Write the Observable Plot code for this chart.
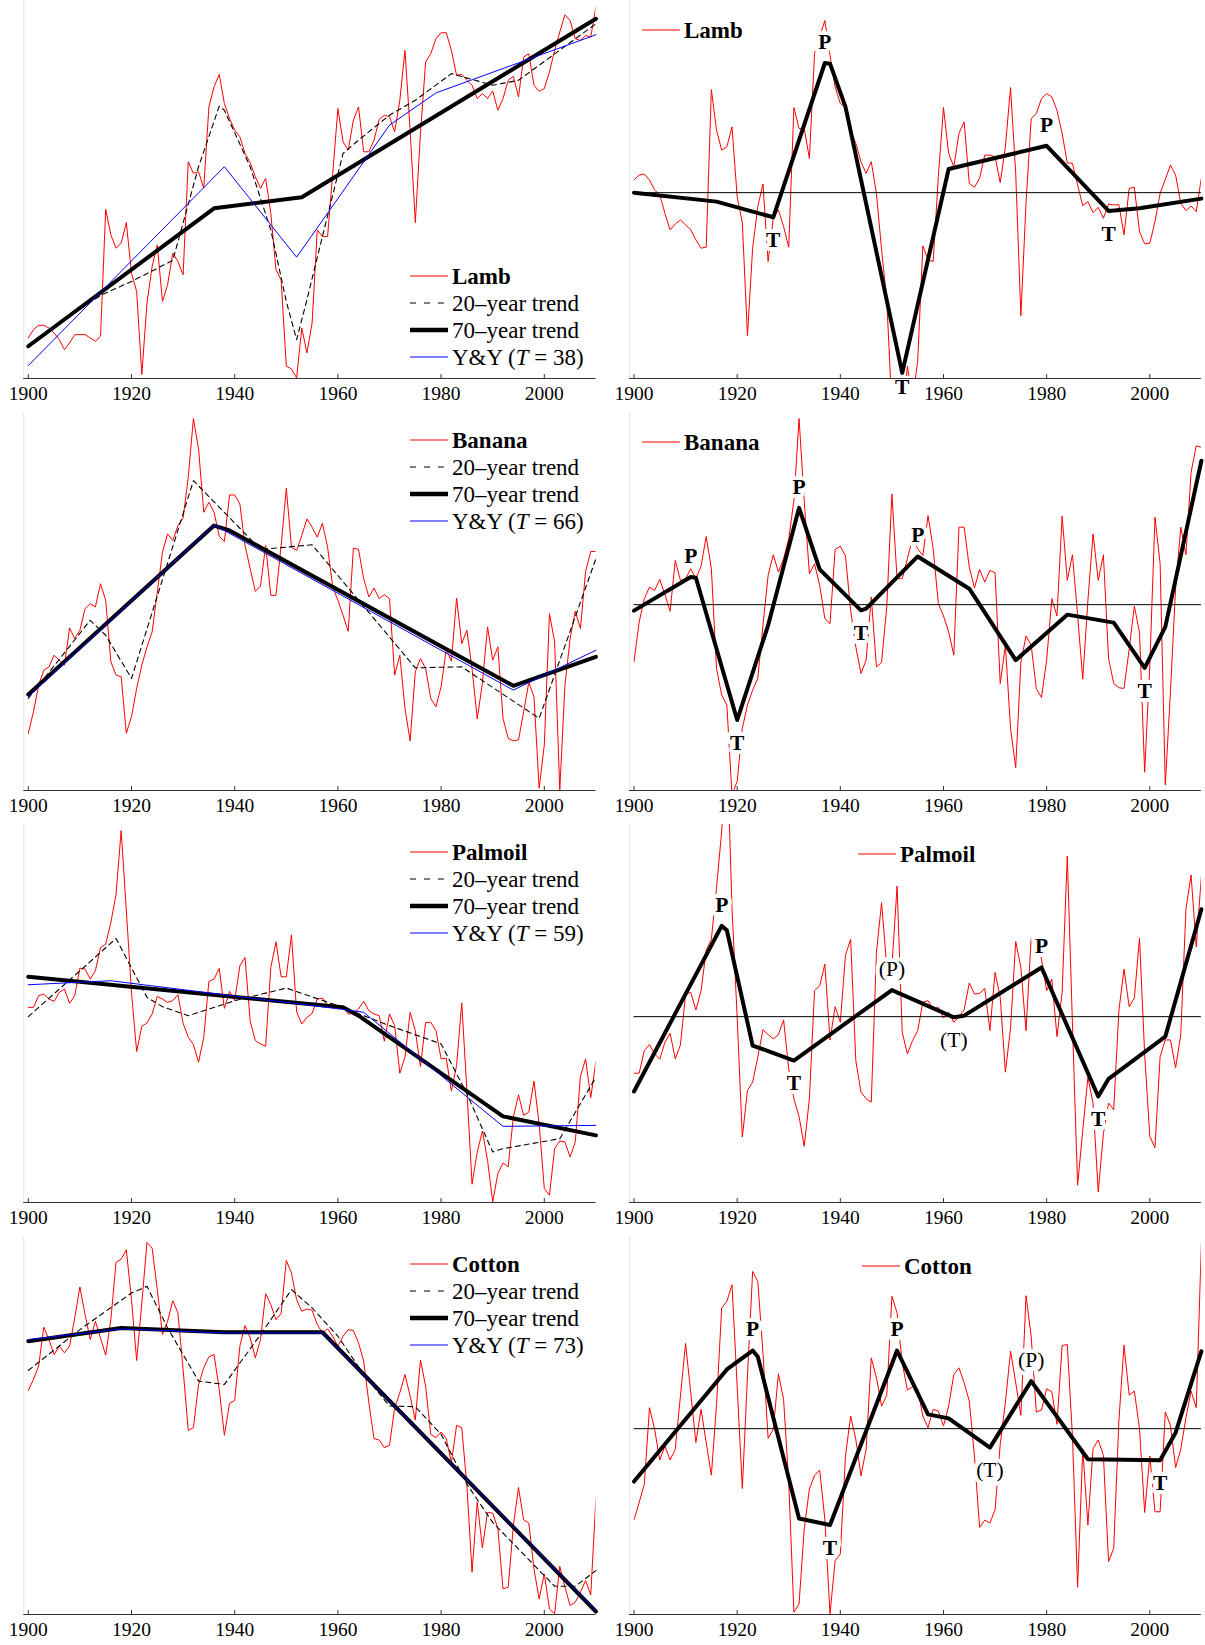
<!DOCTYPE html>
<html><head><meta charset="utf-8">
<script src="https://cdn.jsdelivr.net/npm/d3@7"></script>
<script src="https://cdn.jsdelivr.net/npm/@observablehq/plot@0.6"></script>
<style>
html,body{margin:0;padding:0;background:#fff;}
body{width:1205px;height:1645px;overflow:hidden;position:relative;font-family:"Liberation Serif","Times New Roman",serif;}
.panel{position:absolute;}
.panel text{font-family:"Liberation Serif","Times New Roman",serif !important;}
.panel g[aria-label="x-axis tick label"] text{font-size:19.5px !important;}
.leg{position:absolute;display:flex;align-items:center;height:26px;font-size:23px;line-height:1;white-space:nowrap;color:#000;}
.leg svg{margin-right:4px;}
</style></head><body>
<script>
const years = d3.range(1900, 2011);
const tickYears = [1900, 1920, 1940, 1960, 1980, 2000];

// ---- Lamb ----
const lambLevel = [122,147,160,160,152,137,117,87,107,132,
 132,132,122,112,127,509,432,392,407,469,
 317,262,12,227,337,402,232,282,377,352,
 312,652,617,622,572,817,877,915,827,782,
 747,727,677,649,607,572,602,497,327,297,
 37,29,2,152,77,167,447,427,427,617,
 812,712,687,777,817,682,682,717,779,792,
 787,742,837,987,747,469,737,952,977,1022,
 1040,1040,987,912,915,897,882,842,857,842,
 865,807,842,897,909,847,967,977,882,864,
 872,922,987,1042,1094,1077,1022,1017,1032,1027,
 1117];
const lambT20Years = [1900,1914,1920,1928,1933,1937,1938,1943,1947,1950,1952,1954,1957,1961,1964,1970,1975,1982,1990,1995,2010];
const lambT20 = [102,250,292,355,637,819,807,637,447,232,117,237,427,677,717,792,837,917,882,897,1067];
const lambT70Years = [1900,1936,1953,2010];
const lambT70 = [97,512,545,1082];
const lambYYYears = [1900,1938,1952,1970,1979,2010];
const lambYY = [39,637,365,762,859,1034];
const lambCycle = [38,53,56,38,8,-7,-62,-112,-94,-82,
 -97,-112,-142,-167,-164,310,188,128,138,198,
 -12,-90,-430,-167,-42,26,-207,-77,-52,-102,
 -164,256,193,193,103,418,468,518,413,318,
 268,258,188,148,93,58,93,-2,-172,-322,
 -652,-667,-702,-522,-622,-507,-160,-202,-207,48,
 256,118,78,178,213,28,16,43,113,113,
 108,30,138,316,58,-370,-32,223,238,283,
 298,288,248,178,90,88,23,-39,-27,-60,
 -44,-77,-34,-37,-36,-127,13,16,-117,-154,
 -152,-87,-2,40,83,53,-32,-54,-40,-57,
 45];
const lambFitYears = [1900,1916,1927,1937,1938,1941,1952,1961,1980,1992,1998,2010];
const lambFit = [0,-27,-74,390,388,258,-542,71,141,-55,-47,-18];
const lambTurnYears = [1927,1937,1952,1980,1992];
const lambTurnLabels = ["T","P","T","P","T"];

// ---- Banana ----
const bananaLevel = [172,237,317,362,372,407,392,377,489,457,
 482,547,562,552,622,572,387,347,342,172,
 222,307,377,432,477,597,717,772,752,797,
 819,942,1119,1027,837,867,837,765,749,889,
 889,862,737,667,599,615,737,587,587,737,
 909,732,722,767,817,792,762,804,732,612,
 572,527,479,729,725,637,582,609,577,589,
 577,347,407,247,149,357,397,367,277,252,
 312,425,389,579,442,482,367,215,322,492,
 392,432,217,157,149,152,237,325,282,7,
 137,532,447,2,317,457,539,487,659,719,
 719];
const bananaT20Years = [1900,1912,1915,1920,1932,1945,1955,1975,1984,1999,2010];
const bananaT20 = [277,512,467,337,932,725,739,369,372,217,697];
const bananaT70Years = [1900,1936,1939,1994,2010];
const bananaT70 = [289,797,782,315,402];
const bananaYYYears = [1900,1936,1994,2010];
const bananaYY = [282,799,302,422];
const bananaCycle = [-172,-52,18,53,43,76,30,-20,133,73,
 78,108,78,116,205,108,-192,-272,-302,-572,
 -532,-372,-302,-257,-222,-62,88,150,98,138,
 198,313,560,313,93,123,58,-42,-57,166,
 176,146,-17,-127,-207,-167,23,-187,-174,-7,
 333,78,78,138,200,168,148,268,168,3,
 -34,-82,-152,233,233,113,50,106,68,103,
 96,-237,-122,-372,-490,-174,-94,-122,-254,-279,
 -167,18,-34,266,73,150,-32,-224,13,213,
 73,150,-162,-237,-250,-252,-134,-4,-84,-504,
 -182,263,123,-542,-262,50,233,150,398,478,
 473];
const bananaFitYears = [1900,1911,1912,1920,1926,1932,1936,1944,1945,1955,1965,1974,1984,1993,1999,2003,2010];
const bananaFit = [-18,83,81,-347,-62,291,106,-17,-12,145,48,-167,-30,-54,-190,-67,433];
const bananaTurnYears = [1911,1920,1932,1944,1955,1999];
const bananaTurnLabels = ["P","T","P","T","P","T"];

// ---- Palmoil ----
const palmLevel = [587,587,622,627,612,605,632,642,599,622,
 705,702,672,697,767,777,842,927,1119,877,
 632,454,530,540,567,620,612,602,607,625,
 539,497,475,422,497,665,672,704,584,635,
 607,712,737,545,487,477,470,707,784,679,
 679,805,574,537,557,569,612,615,592,597,
 582,587,567,569,582,605,577,567,562,485,
 567,532,389,437,572,517,409,542,542,517,
 432,434,335,412,600,337,55,152,215,127,
 2,87,119,107,257,324,262,272,365,237,
 42,22,162,185,182,137,182,379,432,315,
 425];
const palmT20Years = [1900,1910,1917,1923,1926,1931,1940,1950,1960,1970,1980,1985,1990,1992,2003,2010];
const palmT20 = [559,697,794,617,589,562,607,645,592,532,477,327,152,162,192,377];
const palmT70Years = [1900,1961,1964,1992,2010];
const palmT70 = [679,587,562,259,202];
const palmYYYears = [1900,1916,1962,1965,1992,2010];
const palmYY = [655,667,579,572,229,232];
const palmCycle = [-170,-170,-102,-84,-112,-128,-77,-50,-127,-85,
 68,73,20,78,200,233,388,558,828,328,
 -2,-362,-222,-197,-122,-39,-54,-67,-54,-10,
 -157,-247,-300,-390,-247,78,93,158,-70,30,
 -17,185,233,-132,-227,-247,-257,193,343,150,
 150,393,-47,-112,-72,-42,43,48,23,28,
 -4,13,-17,0,20,101,68,70,85,-42,
 133,58,-167,-34,226,148,-42,236,236,173,
 78,113,-60,73,483,-22,-507,-342,-182,-262,
 -527,-352,-260,-280,18,143,30,56,236,-112,
 -360,-394,-120,-70,-70,-154,-54,323,426,210,
 423];
const palmFitYears = [1900,1917,1918,1923,1931,1950,1962,1964,1979,1990,1992,2003,2010];
const palmFit = [-225,273,260,-87,-132,80,-2,3,148,-240,-187,-60,323];
const palmTurnYears = [1917,1931,1950,1962,1979,1990];
const palmTurnLabels = ["P","T","(P)","(T)","P","T"];

// ---- Cotton ----
const cottonLevel = [674,707,747,864,827,782,807,787,807,892,
 985,902,827,882,832,780,887,1059,1069,1097,
 947,764,937,1119,1102,977,842,882,944,907,
 737,554,562,692,742,775,782,677,539,635,
 644,807,869,832,772,827,965,932,887,905,
 1065,1027,947,912,919,915,872,847,859,837,
 807,837,857,854,817,762,637,529,525,502,
 509,622,667,722,657,585,765,687,542,532,
 549,529,457,569,562,387,127,339,200,307,
 305,259,77,82,267,382,285,275,137,47,
 122,17,2,145,82,27,37,67,102,59,
 347];
const cottonT20Years = [1900,1910,1920,1923,1927,1933,1938,1945,1951,1955,1960,1965,1970,1975,1980,1985,1990,2002,2006,2010];
const cottonT20 = [734,857,967,987,862,702,692,842,977,922,837,722,627,625,542,392,277,85,85,132];
const cottonT70Years = [1900,1918,1938,1957,2010];
const cottonT70 = [822,862,849,849,9];
const cottonYYYears = [1900,1918,1938,1957,2010];
const cottonYY = [827,859,847,847,12];
const cottonCycle = [-274,-222,-167,63,-2,-94,-52,-94,-62,98,
 256,108,-42,58,-42,-140,73,363,383,433,
 128,-180,158,473,443,228,-29,-2,165,88,
 -162,-552,-527,-302,-182,-140,-125,-272,-557,-397,
 -377,-82,38,-32,-142,-62,213,153,68,100,
 398,348,198,116,126,120,38,3,58,53,
 8,68,163,183,138,83,-82,-297,-275,-284,
 -244,-47,78,233,138,40,400,278,50,56,
 120,111,13,250,253,-22,-477,-62,-290,-60,
 -34,-80,-400,-360,23,251,101,113,0,-252,
 -82,-250,-250,50,10,-117,-62,33,113,63,
 558];
const cottonFitYears = [1900,1918,1923,1924,1932,1938,1951,1957,1961,1969,1977,1988,2002,2005,2010];
const cottonFit = [-159,178,235,216,-270,-290,235,43,31,-57,143,-92,-95,-12,233];
const cottonTurnYears = [1923,1938,1951,1969,1977,2002];
const cottonTurnLabels = ["P","T","P","(T)","(P)","T"];

const names = ["Lamb","Banana","Palmoil","Cotton"];
const yyT = [38,66,59,73];

const panels = [
 {level:lambLevel,t20Y:lambT20Years,t20:lambT20,t70Y:lambT70Years,t70:lambT70,yyY:lambYYYears,yy:lambYY,
  cycle:lambCycle,fitY:lambFitYears,fit:lambFit,turnY:lambTurnYears,turnL:lambTurnLabels},
 {level:bananaLevel,t20Y:bananaT20Years,t20:bananaT20,t70Y:bananaT70Years,t70:bananaT70,yyY:bananaYYYears,yy:bananaYY,
  cycle:bananaCycle,fitY:bananaFitYears,fit:bananaFit,turnY:bananaTurnYears,turnL:bananaTurnLabels},
 {level:palmLevel,t20Y:palmT20Years,t20:palmT20,t70Y:palmT70Years,t70:palmT70,yyY:palmYYYears,yy:palmYY,
  cycle:palmCycle,fitY:palmFitYears,fit:palmFit,turnY:palmTurnYears,turnL:palmTurnLabels},
 {level:cottonLevel,t20Y:cottonT20Years,t20:cottonT20,t70Y:cottonT70Years,t70:cottonT70,yyY:cottonYYYears,yy:cottonYY,
  cycle:cottonCycle,fitY:cottonFitYears,fit:cottonFit,turnY:cottonTurnYears,turnL:cottonTurnLabels}
];

// layout (pixels)
const ROW = 412;
const FONT = "Liberation Serif";
const leftLegendTop = [263, 15, 15, 15];
const rightLegendX = [642, 642, 858, 862];

function series(xs, vs){ return xs.map((x,i)=>({year:x, v:vs[i]})); }

function axisMarks(yMin){
  return [
    Plot.ruleY([yMin],{x1:1899.13,x2:2010,stroke:"#333",strokeWidth:1}),
    Plot.ruleX(tickYears,{y1:yMin,y2:yMin+12,stroke:"#333",strokeWidth:1}),
    Plot.axisX({ticks:tickYears,tickSize:0,tickPadding:8,tickFormat:d=>String(d),fontSize:19.5,label:null})
  ];
}

function leftPlot(p){
  const yMin=0, yMax=1137;
  return Plot.plot({
    width:602,height:ROW,marginLeft:27.8,marginRight:6.6,marginTop:0,marginBottom:34,
    x:{domain:[1900,2010]}, y:{domain:[yMin,yMax],axis:null},
    style:{fontFamily:FONT,fontSize:"19px",background:"transparent",overflow:"visible",color:"black"},
    marks:[
      Plot.ruleX([1899.13],{y1:yMin,y2:yMax,stroke:"#e6e6e6"}),
      Plot.line(series(years,p.level),{x:"year",y:"v",stroke:"red",strokeWidth:1,clip:true}),
      Plot.line(series(p.t20Y,p.t20),{x:"year",y:"v",stroke:"black",strokeWidth:1.1,strokeDasharray:"5,4"}),
      Plot.line(series(p.t70Y,p.t70),{x:"year",y:"v",stroke:"black",strokeWidth:4}),
      Plot.line(series(p.yyY,p.yy),{x:"year",y:"v",stroke:"blue",strokeWidth:1}),
      ...axisMarks(yMin)
    ]
  });
}

function rightPlot(p){
  const yMin=-559, yMax=578;
  const turns = p.turnY.map((yr,i)=>{
    const v = p.fit[p.fitY.indexOf(yr)];
    const lab = p.turnL[i];
    const peak = lab.includes("P");
    return {year:yr,label:lab,bold:!lab.startsWith("("),ly: peak ? v+63 : Math.max(v-69, yMin-27)};
  });
  const textOpts = {x:"year",y:"ly",text:"label",fontSize:21.5,fill:"black",stroke:"white",strokeWidth:8,paintOrder:"stroke"};
  return Plot.plot({
    width:603,height:ROW,marginLeft:31.5,marginRight:4.1,marginTop:0,marginBottom:34,
    x:{domain:[1900,2010]}, y:{domain:[yMin,yMax],axis:null},
    style:{fontFamily:FONT,fontSize:"19px",background:"transparent",overflow:"visible",color:"black"},
    marks:[
      Plot.ruleX([1899.13],{y1:yMin,y2:yMax,stroke:"#e6e6e6"}),
      Plot.line(series(years,p.cycle),{x:"year",y:"v",stroke:"red",strokeWidth:1,clip:true}),
      Plot.ruleY([0],{x1:1900,x2:2010,stroke:"black",strokeWidth:1}),
      Plot.line(series(p.fitY,p.fit),{x:"year",y:"v",stroke:"black",strokeWidth:4}),
      Plot.text(turns.filter(d=>d.bold),{...textOpts,fontWeight:"bold"}),
      Plot.text(turns.filter(d=>!d.bold),{...textOpts,fontWeight:"normal"}),
      ...axisMarks(yMin)
    ]
  });
}

function sample(kind){
  const s = {red:'stroke="red" stroke-width="1.2"', dash:'stroke="black" stroke-width="1.2" stroke-dasharray="6,8"',
             thick:'stroke="black" stroke-width="4.5"', blue:'stroke="blue" stroke-width="1.2"'}[kind];
  return `<svg width="38" height="10"><line x1="0" y1="5" x2="38" y2="5" ${s}/></svg>`;
}
function legendRow(x, yTop, kind, html){
  const d = document.createElement("div");
  d.className = "leg";
  d.style.left = x + "px";
  d.style.top = yTop + "px";
  d.innerHTML = sample(kind) + `<span>${html}</span>`;
  document.body.appendChild(d);
}

panels.forEach((p, r) => {
  const L = leftPlot(p); L.classList.add("panel"); L.style.left = "0px"; L.style.top = (r*ROW) + "px";
  document.body.appendChild(L);
  const R = rightPlot(p); R.classList.add("panel"); R.style.left = "602px"; R.style.top = (r*ROW) + "px";
  document.body.appendChild(R);

  const t0 = r*ROW + leftLegendTop[r];
  const items = [["red",`<b>${names[r]}</b>`],["dash","20–year trend"],["thick","70–year trend"],["blue",`Y&amp;Y (<i>T</i> = ${yyT[r]})`]];
  items.forEach((it,k)=>legendRow(410, t0 + k*27, it[0], it[1]));
  legendRow(rightLegendX[r], r*ROW + 17, "red", `<b>${names[r]}</b>`);
});
</script>
</body></html>
